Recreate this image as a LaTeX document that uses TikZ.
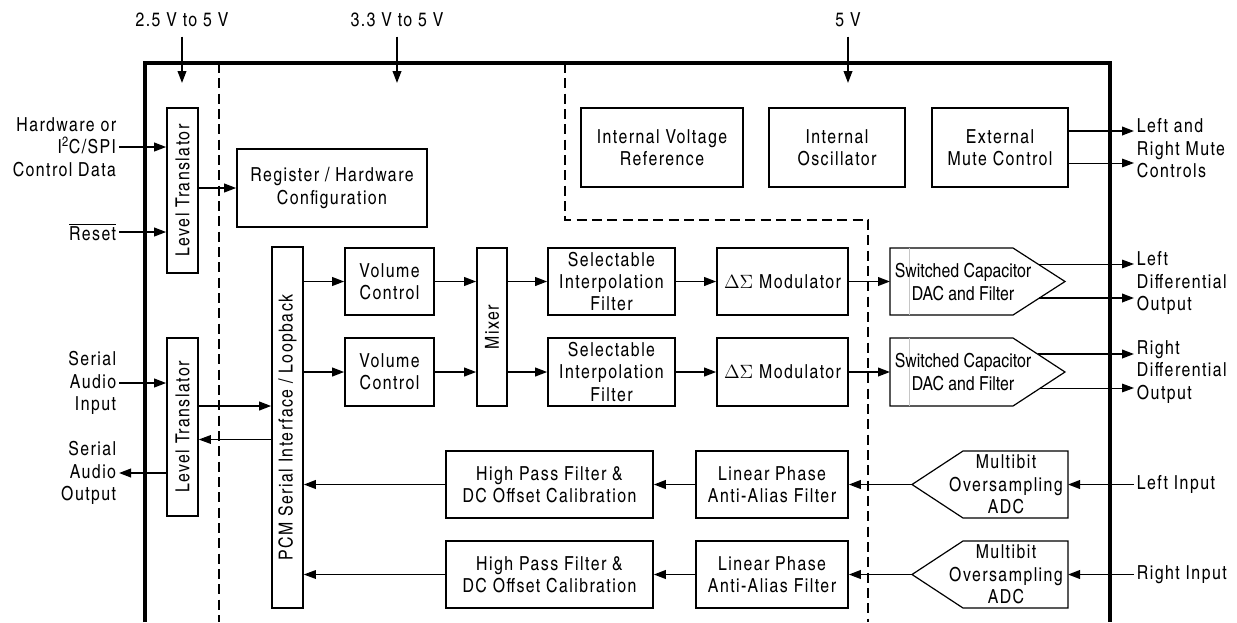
\documentclass[tikz,border=0pt]{standalone}
\usepackage{fontspec}
\setmainfont{texgyreheroscn}[Extension=.otf,UprightFont=*-regular,BoldFont=*-bold,ItalicFont=*-italic,BoldItalicFont=*-bolditalic,LetterSpace=7.5]
\usetikzlibrary{arrows.meta,calc}
\tikzset{
  sig/.style={-{Triangle[length=9pt,width=6.5pt]},line width=1.3pt},
  sigd/.style={-{Triangle[length=9pt,width=6.5pt]},line width=0.75pt},
  blk/.style 2 args={draw,line width=1.2pt,inner sep=1pt,align=center,minimum width=#1*0.75pt,minimum height=#2*0.75pt},
  vblk/.style 2 args={blk={#2}{#1},rotate=90},
  form/.style={draw,line width=0.9pt},
  rahmen/.style={line width=2.3pt},
  trenn/.style={dash pattern=on 7.5pt off 4pt,line width=0.9pt},
  lbl/.style={inner sep=2pt,align=center},
}

\begin{document}
\begin{tikzpicture}[x=0.75pt,y=-0.75pt,font=\fontsize{14.5}{16.8}\selectfont]
  \useasboundingbox (0,0) rectangle (1237,622);
  % rahmen und trennlinien
  \draw[rahmen] (145,622) -- (145,63) -- (1110,63) -- (1110,622);
  \draw[trenn] (219,63) -- (219,622);
  \draw[trenn] (565,63) -- (565,220) -- (868,220) -- (868,622);

  % versorgung
  \node[lbl] (v1) at (182,20) {2.5 V to 5 V};
  \node[lbl] (v2) at (397,20) {3.3 V to 5 V};
  \node[lbl] (v3) at (848,20) {5 V};
  \coordinate (v1e) at (182,83);
  \coordinate (v2e) at (397,83);
  \coordinate (v3e) at (848,83);
  \foreach \v in {v1,v2,v3}{\draw[sig,shorten <=5pt] (\v) -- (\v e);}

  % bloecke
  \node[vblk={31}{165}] (lt1) at (182.5,190.5) {Level Translator};
  \node[vblk={31}{178}] (lt2) at (182.5,427) {Level Translator};
  \node[blk={190}{78}] (reg) at (332,188) {Register / Hardware\\Configuration};
  \node[vblk={31}{361}] (pcm) at (287.5,427.5) {PCM Serial Interface / Loopback};
  \node[blk={89}{67}] (vol1) at (389.5,281.5) {Volume\\Control};
  \node[blk={89}{68}] (vol2) at (389.5,372) {Volume\\Control};
  \node[vblk={30}{158}] (mix) at (492,327) {Mixer};
  \node[blk={127}{67}] (sel1) at (611.5,281.5) {Selectable\\Interpolation\\Filter};
  \node[blk={127}{68}] (sel2) at (611.5,372) {Selectable\\Interpolation\\Filter};
  \node[blk={131}{67}] (ds1) at (782.5,281.5) {$\Delta\Sigma$ Modulator};
  \node[blk={131}{68}] (ds2) at (782.5,372) {$\Delta\Sigma$ Modulator};
  \node[blk={162}{79}] (ivr) at (662,147.5) {Internal Voltage\\Reference};
  \node[blk={136}{79}] (osc) at (837,147.5) {Internal\\Oscillator};
  \node[blk={136}{79}] (emc) at (1000,147.5) {External\\Mute Control};
  \node[blk={207}{67}] (hpf1) at (549.5,484.5) {High Pass Filter \&\\DC Offset Calibration};
  \node[blk={207}{67}] (hpf2) at (549.5,574.5) {High Pass Filter \&\\DC Offset Calibration};
  \node[blk={152}{67}] (lpf1) at (772,484.5) {Linear Phase\\Anti-Alias Filter};
  \node[blk={152}{67}] (lpf2) at (772,574.5) {Linear Phase\\Anti-Alias Filter};

  % DAC und ADC
  \draw[form] (890,248) -- (1013,248) -- (1065,281.5) -- (1013,315) -- (890,315) -- cycle;
  \draw[form] (890,338) -- (1013,338) -- (1065,372) -- (1013,406) -- (890,406) -- cycle;
  \draw[gray!45,line width=0.4pt] (909,248) -- (909,315) (909,338) -- (909,406);
  \node[lbl] (dac1) at (963,282) {\addfontfeature{LetterSpace=0}Switched Capacitor\\\addfontfeature{LetterSpace=0}DAC and Filter};
  \node[lbl] (dac2) at (963,372) {\addfontfeature{LetterSpace=0}Switched Capacitor\\\addfontfeature{LetterSpace=0}DAC and Filter};
  \draw[form] (912,484.5) -- (963,451) -- (1068,451) -- (1068,518) -- (963,518) -- cycle;
  \draw[form] (912,574.5) -- (963,541) -- (1068,541) -- (1068,608) -- (963,608) -- cycle;
  \node[lbl] (adc1) at (1006,484.5) {Multibit\\Oversampling\\ADC};
  \node[lbl] (adc2) at (1006,574.5) {Multibit\\Oversampling\\ADC};
  \coordinate (dac1l) at (890,281.5);
  \coordinate (dac2l) at (890,372);
  \coordinate (d1o1) at (1038,264);
  \coordinate (d1o2) at (1039,298);
  \coordinate (d2o1) at (1038,354);
  \coordinate (d2o2) at (1040,388);
  \coordinate (adc1r) at (1068,484.5);
  \coordinate (adc2r) at (1068,574.5);
  \coordinate (adc1t) at (912,484.5);
  \coordinate (adc2t) at (912,574.5);

  % beschriftung aussen
  \node[lbl,anchor=east,align=right] (hw) at (119,147) {Hardware or\\I\textsuperscript{2}C/SPI\\Control Data};
  \node[lbl,anchor=east] (rst) at (119,232) {$\overline{\mbox{Reset}}$};
  \node[lbl,anchor=east,align=right] (sin) at (119,383) {Serial\\Audio\\Input};
  \node[lbl,anchor=east,align=right] (sout) at (119,473) {Serial\\Audio\\Output};
  \node[lbl,anchor=west,align=left] (mute) at (1134,148.5) {Left and\\Right Mute\\Controls};
  \node[lbl,anchor=west,align=left] (ldo) at (1134,283) {Left\\Differential\\Output};
  \node[lbl,anchor=west,align=left] (rdo) at (1134,372) {Right\\Differential\\Output};
  \node[lbl,anchor=west] (lin) at (1134,484.5) {Left Input};
  \node[lbl,anchor=west] (rin) at (1134,574.5) {Right Input};

  % verbindungen links
  \draw[sig] (hw.east) -- (lt1.north |- hw.east);
  \draw[sig] (rst.east) -- (lt1.north |- rst.east);
  \draw[sig] (lt1.south |- reg.west) -- (reg.west);
  \draw[sig] (sin.east) -- (lt2.north |- sin.east);
  \draw[sig] (lt2.north |- sout.east) -- (sout.east);
  \draw[sig] ($(lt2.south)+(0,-21)$) coordinate (l2a) -- (l2a -| pcm.north);
  \draw[sigd] ($(pcm.north)+(0,12)$) coordinate (l2b) -- (l2b -| lt2.south);

  % DAC pfad
  \draw[sig] (pcm.south |- vol1.west) -- (vol1.west);
  \draw[sig] (pcm.south |- vol2.west) -- (vol2.west);
  \draw[sig] (vol1.east) -- (mix.north |- vol1.east);
  \draw[sig] (vol2.east) -- (mix.north |- vol2.east);
  \draw[sig] (mix.south |- sel1.west) -- (sel1.west);
  \draw[sig] (mix.south |- sel2.west) -- (sel2.west);
  \draw[sig] (sel1) -- (ds1);
  \draw[sig] (sel2) -- (ds2);
  \draw[sig] (ds1.east) -- (dac1l);
  \draw[sig] (ds2.east) -- (dac2l);
  \draw[sigd] (d1o1) -- (d1o1 -| ldo.west);
  \draw[sig] (d1o2) -- (d1o2 -| ldo.west);
  \draw[sig] (d2o1) -- (d2o1 -| rdo.west);
  \draw[sigd] (d2o2) -- (d2o2 -| rdo.west);

  % mute
  \draw[sig] ($(emc.east)+(0,-16.5)$) coordinate (m1) -- (m1 -| mute.west);
  \draw[sigd] ($(emc.east)+(0,15.5)$) coordinate (m2) -- (m2 -| mute.west);

  % ADC pfad
  \draw[sig] (lin.west) -- (adc1r);
  \draw[sig] (rin.west) -- (adc2r);
  \draw[sig] (adc1t) -- (lpf1.east);
  \draw[sig] (adc2t) -- (lpf2.east);
  \draw[sig] (lpf1) -- (hpf1);
  \draw[sig] (lpf2) -- (hpf2);
  \draw[sig] (hpf1.west) -- (pcm.south |- hpf1.west);
  \draw[sigd] (hpf2.west) -- (pcm.south |- hpf2.west);
\end{tikzpicture}
\end{document}
